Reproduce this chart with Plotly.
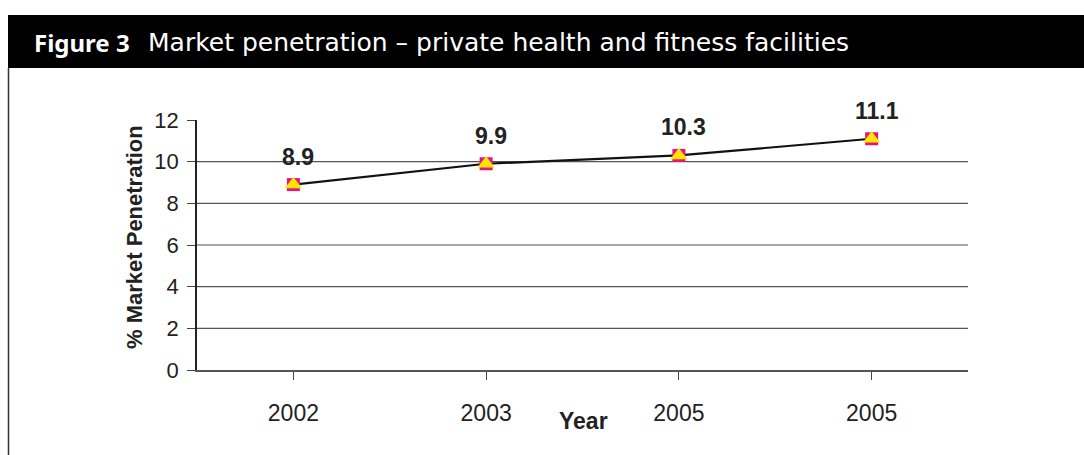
import plotly.graph_objects as go

# Chart data
years = ["2002", "2003", "2005", "2005"]
penetration = [8.9, 9.9, 10.3, 11.1]
y_ticks = [0, 2, 4, 6, 8, 10, 12]

W, H = 1084, 455


def px_x(x):
    return x / W


def px_y(y):
    return (H - y) / H


cats = list(range(len(years)))
AX_FONT = "Liberation Sans, Arial, sans-serif"

fig = go.Figure()

# Line with pink square markers
fig.add_trace(go.Scatter(
    x=cats, y=penetration, mode="lines+markers",
    line=dict(color="#111111", width=2.2),
    marker=dict(symbol="square", size=13, color="#E5157F", line=dict(width=0)),
    hoverinfo="skip", showlegend=False, cliponaxis=False,
))
# Yellow triangle markers over the squares
fig.add_trace(go.Scatter(
    x=cats, y=penetration, mode="markers",
    marker=dict(symbol="triangle-up", size=15, color="#FFE500", line=dict(width=0)),
    hoverinfo="skip", showlegend=False, cliponaxis=False,
))

# Value labels above each point
for i, v in enumerate(penetration):
    fig.add_annotation(
        x=i, y=v, xref="x", yref="y", text=f"<b>{v}</b>", showarrow=False,
        yshift=28, xshift=5,
        font=dict(family=AX_FONT, size=23, color="#222222"),
    )

# Horizontal gridlines (none at the top of the range)
for g in y_ticks[1:-1]:
    fig.add_shape(type="line", xref="paper", yref="y",
                  x0=px_x(197), x1=px_x(968), y0=g, y1=g,
                  line=dict(color="#555555", width=1.2), layer="below")

shapes = [
    # Title bar
    dict(type="rect", xref="paper", yref="paper",
         x0=px_x(8), x1=1.0, y0=px_y(68), y1=px_y(15),
         fillcolor="#000000", line=dict(width=0)),
    # Left frame rule
    dict(type="line", xref="paper", yref="paper",
         x0=px_x(8.5), x1=px_x(8.5), y0=0, y1=px_y(68),
         line=dict(color="#333333", width=1.5)),
]
for s in shapes:
    fig.add_shape(**s)

# Figure caption in the title bar
fig.add_annotation(
    xref="paper", yref="paper", x=px_x(32), y=px_y(42),
    xanchor="left", yanchor="middle", showarrow=False,
    text="<b>Figure 3</b>",
    font=dict(family="Noto Sans, Open Sans, sans-serif", size=24, color="#ffffff"),
)
fig.add_annotation(
    xref="paper", yref="paper", x=px_x(146), y=px_y(42),
    xanchor="left", yanchor="middle", showarrow=False,
    text="Market penetration – private health and fitness facilities",
    font=dict(family="DejaVu Sans, sans-serif", size=25, color="#ffffff"),
)

# Axis titles
fig.add_annotation(
    xref="paper", yref="paper", x=px_x(135), y=px_y(237),
    xanchor="center", yanchor="middle",
    textangle=-90, showarrow=False, text="<b>% Market Penetration</b>",
    font=dict(family=AX_FONT, size=22, color="#222222"),
)
fig.add_annotation(
    xref="paper", yref="paper", x=px_x(583), y=px_y(421),
    xanchor="center", yanchor="middle",
    showarrow=False, text="<b>Year</b>",
    font=dict(family=AX_FONT, size=23, color="#222222"),
)

fig.update_layout(
    template="none",
    width=W, height=H,
    margin=dict(l=0, r=0, t=0, b=0, pad=0),
    paper_bgcolor="#ffffff", plot_bgcolor="#ffffff",
    xaxis=dict(
        domain=[px_x(197), px_x(968)],
        automargin=False,
        tickmode="array", tickvals=cats, ticktext=years,
        range=[-0.5, len(years) - 0.5],
        tickson="boundaries", ticks="outside", ticklen=8, tickcolor="#444444",
        showline=True, linecolor="#555555", linewidth=1.5,
        showgrid=False, zeroline=False,
        ticklabelstandoff=14,
        tickfont=dict(family=AX_FONT, size=23, color="#222222"),
    ),
    yaxis=dict(
        domain=[px_y(370), px_y(120)],
        automargin=False,
        range=[0, 12], tickvals=y_ticks,
        ticks="outside", ticklen=8, tickcolor="#444444",
        showline=True, linecolor="#222222", linewidth=1.5,
        showgrid=False, zeroline=False,
        ticklabelstandoff=4,
        tickfont=dict(family=AX_FONT, size=22, color="#222222"),
    ),
)

fig.write_html("out.html")
